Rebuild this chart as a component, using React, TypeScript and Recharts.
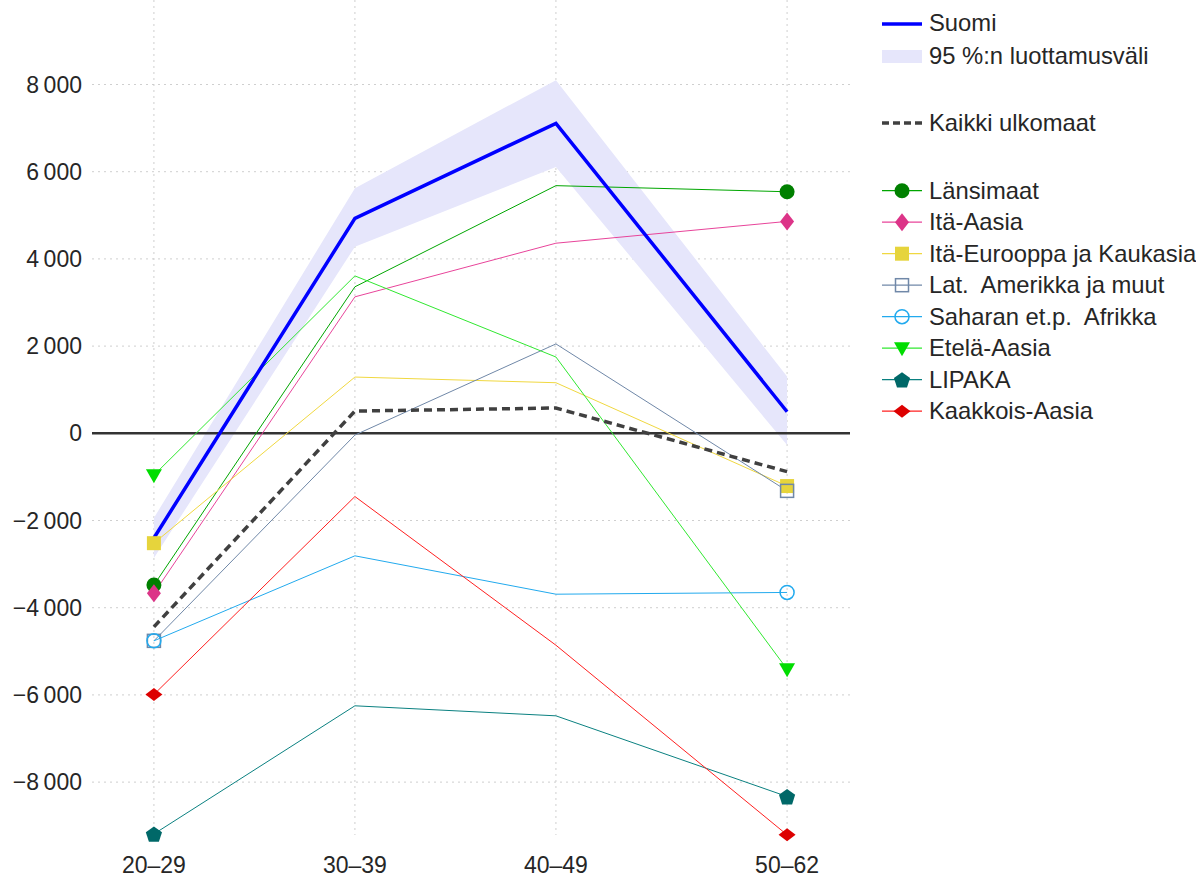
import React from 'react'
import {
  ComposedChart,
  Line,
  Area,
  XAxis,
  YAxis,
  CartesianGrid,
  ReferenceLine,
} from 'recharts'

// age groups and their midpoints (x position on a numeric age axis)
const ageGroups = ['20–29', '30–39', '40–49', '50–62']
const ageMid = [24.5, 34.5, 44.5, 56]

const suomi = [-2400, 4930, 7110, 495]
const suomiLow = [-2860, 4280, 6110, -270]
const suomiHigh = [-1940, 5620, 8100, 1300]
const kaikki = [-4440, 510, 580, -880]

const lansimaat = [-3480, 3360, 5680, 5540]
const itaAasia = [-3670, 3130, 4360, 4860]
const itaEurooppa = [-2520, 1290, 1160, -1210]
const latAmerikka = [-4760, -40, 2050, -1320]
const saharan = [-4760, -2810, -3690, -3650]
const etelaAasia = [-960, 3610, 1750, -5410]
const lipaka = [-9190, -6250, -6480, -8330]
const kaakkoisAasia = [-5990, -1450, -4860, -9210]

const yTicks = [-8000, -6000, -4000, -2000, 0, 2000, 4000, 6000, 8000]

type Marker = 'circle' | 'diamond' | 'square' | 'openSquare' | 'openCircle' | 'triDown' | 'pentagon' | 'wideDiamond'

interface Region {
  key: string
  name: string
  values: number[]
  line: string
  fill: string
  marker: Marker
}

const regions: Region[] = [
  { key: 'lansimaat', name: 'Länsimaat', values: lansimaat, line: '#00a600', fill: '#008000', marker: 'circle' },
  { key: 'itaAasia', name: 'Itä-Aasia', values: itaAasia, line: '#e8449a', fill: '#dc3488', marker: 'diamond' },
  { key: 'itaEurooppa', name: 'Itä-Eurooppa ja Kaukasia', values: itaEurooppa, line: '#f0d840', fill: '#e6d43c', marker: 'square' },
  { key: 'latAmerikka', name: 'Lat.  Amerikka ja muut', values: latAmerikka, line: '#7088a8', fill: '#7088a8', marker: 'openSquare' },
  { key: 'saharan', name: 'Saharan et.p.  Afrikka', values: saharan, line: '#22aaee', fill: '#22aaee', marker: 'openCircle' },
  { key: 'etelaAasia', name: 'Etelä-Aasia', values: etelaAasia, line: '#30e830', fill: '#00dd00', marker: 'triDown' },
  { key: 'lipaka', name: 'LIPAKA', values: lipaka, line: '#0a8080', fill: '#006868', marker: 'pentagon' },
  { key: 'kaakkoisAasia', name: 'Kaakkois-Aasia', values: kaakkoisAasia, line: '#ff2020', fill: '#dd0000', marker: 'wideDiamond' },
]

const data = ageGroups.map((label, i) => {
  const row: Record<string, any> = {
    x: ageMid[i],
    label,
    suomi: suomi[i],
    band: [suomiLow[i], suomiHigh[i]],
    kaikki: kaikki[i],
  }
  regions.forEach((r) => {
    row[r.key] = r.values[i]
  })
  return row
})

const FONT = '"Liberation Sans", Arial, Helvetica, sans-serif'
const TEXT = '#262626'

function drawMarker(kind: Marker, cx: number, cy: number, color: string, key?: string) {
  switch (kind) {
    case 'circle':
      return <circle key={key} cx={cx} cy={cy} r={7.5} fill={color} />
    case 'diamond':
      return <polygon key={key} points={`${cx},${cy - 9} ${cx + 7},${cy} ${cx},${cy + 9} ${cx - 7},${cy}`} fill={color} />
    case 'square':
      return <rect key={key} x={cx - 7} y={cy - 7} width={14} height={14} fill={color} />
    case 'openSquare':
      return <rect key={key} x={cx - 6.5} y={cy - 6.5} width={13} height={13} fill="none" stroke={color} strokeWidth={1.5} />
    case 'openCircle':
      return <circle key={key} cx={cx} cy={cy} r={7} fill="none" stroke={color} strokeWidth={1.5} />
    case 'triDown':
      return <polygon key={key} points={`${cx - 8},${cy - 6} ${cx + 8},${cy - 6} ${cx},${cy + 8}`} fill={color} />
    case 'pentagon': {
      const pts = [0, 1, 2, 3, 4]
        .map((k) => {
          const a = -Math.PI / 2 + (k * 2 * Math.PI) / 5
          return `${cx + 8.5 * Math.cos(a)},${cy + 1 + 8.5 * Math.sin(a)}`
        })
        .join(' ')
      return <polygon key={key} points={pts} fill={color} />
    }
    case 'wideDiamond':
      return <polygon key={key} points={`${cx},${cy - 6.5} ${cx + 8.5},${cy} ${cx},${cy + 6.5} ${cx - 8.5},${cy}`} fill={color} />
  }
}

// markers only at the first and last age group
const endDot = (r: Region) => (props: any) => {
  const { cx, cy, index } = props
  if (index !== 0 && index !== ageGroups.length - 1) return <g key={`${r.key}-${index}`} />
  return drawMarker(r.marker, cx, cy, r.fill, `${r.key}-${index}`)
}

function LegendPanel() {
  const rowY = (i: number) => 190.7 + i * 31.5
  return (
    <svg width={320} height={440} style={{ position: 'absolute', left: 876, top: 0 }}>
      <g fontFamily={FONT} fontSize={23.8} fill={TEXT}>
        <line x1={6} x2={46} y1={24} y2={24} stroke="#0000ff" strokeWidth={3.5} />
        <text x={53} y={31}>Suomi</text>
        <rect x={6} y={50} width={40} height={13} fill="#e6e6fb" />
        <text x={53} y={64}>95 %:n luottamusväli</text>
        <line x1={6} x2={46} y1={123} y2={123} stroke="#404040" strokeWidth={3.5} strokeDasharray="7 4" />
        <text x={53} y={131}>Kaikki ulkomaat</text>
        {regions.map((r, i) => (
          <g key={r.key}>
            <line x1={6} x2={46} y1={rowY(i)} y2={rowY(i)} stroke={r.line} strokeWidth={1.2} />
            {drawMarker(r.marker, 26, rowY(i), r.fill)}
            <text x={53} y={rowY(i) + 8} style={{ whiteSpace: 'pre' }}>{r.name}</text>
          </g>
        ))}
      </g>
    </svg>
  )
}

const fmtY = (v: number) => {
  if (v === 0) return '0'
  const abs = Math.abs(v)
  const s = abs >= 1000 ? `${Math.floor(abs / 1000)}\u2009${String(abs % 1000).padStart(3, '0')}` : String(abs)
  return v < 0 ? `\u2212${s}` : s
}

const fmtX = (v: number) => ageGroups[ageMid.indexOf(v)] ?? ''

export default function App() {
  return (
    <div style={{ position: 'absolute', left: 0, top: 0, width: 1196, height: 877, background: '#fff' }}>
      <ComposedChart
        width={1196}
        height={877}
        data={data}
        margin={{ top: 0, right: 346, left: 8, bottom: 0 }}
      >
        <CartesianGrid
          stroke="#cfcfcf"
          strokeDasharray="2 4"
          horizontalValues={yTicks}
          verticalValues={ageMid}
        />
        <XAxis
          type="number"
          dataKey="x"
          domain={[21.42, 59.13]}
          ticks={ageMid}
          tickFormatter={fmtX}
          axisLine={false}
          tickLine={false}
          tickSize={0}
          tickMargin={22}
          height={42}
          tick={{ fill: TEXT, fontSize: 23, fontFamily: FONT }}
          interval={0}
        />
        <YAxis
          type="number"
          domain={[-9213, 9938]}
          ticks={yTicks}
          tickFormatter={fmtY}
          axisLine={false}
          tickLine={false}
          tickSize={0}
          tickMargin={10}
          width={84}
          tick={{ fill: TEXT, fontSize: 23, fontFamily: FONT }}
          interval={0}
        />
        <Area
          type="linear"
          dataKey="band"
          stroke="none"
          fill="#e6e6fb"
          fillOpacity={1}
          isAnimationActive={false}
          activeDot={false}
        />
        <ReferenceLine y={0} stroke="#333333" strokeWidth={2.5} />
        {regions.map((r) => (
          <Line
            key={r.key}
            dataKey={r.key}
            stroke={r.line}
            strokeWidth={1}
            dot={endDot(r)}
            activeDot={false}
            isAnimationActive={false}
          />
        ))}
        <Line
          dataKey="kaikki"
          stroke="#404040"
          strokeWidth={3.5}
          strokeDasharray="8 5"
          dot={false}
          activeDot={false}
          isAnimationActive={false}
        />
        <Line
          dataKey="suomi"
          stroke="#0000ff"
          strokeWidth={3.5}
          dot={false}
          activeDot={false}
          isAnimationActive={false}
        />
      </ComposedChart>
      <LegendPanel />
    </div>
  )
}
